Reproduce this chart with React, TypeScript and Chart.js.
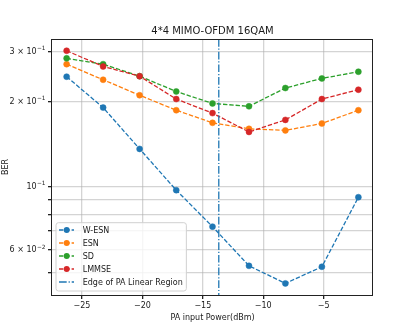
import React, { useEffect, useRef } from 'react';
import { Chart, registerables } from 'chart.js';

Chart.register(...registerables);

// ---- data ----
const TITLE = '4*4 MIMO-OFDM 16QAM';
const X_LABEL = 'PA input Power(dBm)';
const Y_LABEL = 'BER';
const X_POWER = [-26.27, -23.25, -20.23, -17.2, -14.2, -11.18, -8.17, -5.15, -2.13];
const W_ESN = [0.244, 0.19, 0.136, 0.0974, 0.0725, 0.0528, 0.0458, 0.0524, 0.092];
const ESN = [0.27, 0.238, 0.21, 0.186, 0.168, 0.16, 0.158, 0.167, 0.186];
const SD = [0.283, 0.27, 0.245, 0.2165, 0.1965, 0.192, 0.2226, 0.2406, 0.254];
const LMMSE = [0.301, 0.265, 0.245, 0.2036, 0.1817, 0.156, 0.172, 0.2036, 0.2196];
const SERIES_NAMES = ['W-ESN', 'ESN', 'SD', 'LMMSE'];
const EDGE_NAME = 'Edge of PA Linear Region';
const EDGE_X = -13.68;
const X_TICKS = [-25, -20, -15, -10, -5];
const Y_GRID = [0.05, 0.06, 0.07, 0.08, 0.09, 0.1, 0.2, 0.3];
const Y_LABEL_VALUES = [0.3, 0.2, 0.1, 0.06];
const Y_LABEL_MANTISSA = ['3 × 10', '2 × 10', '10', '6 × 10'];
const Y_LABEL_EXPONENT = ['−1', '−1', '−1', '−2'];
const X_MIN = -27.48;
const X_MAX = -0.92;
const Y_MIN = 0.0417;
const Y_MAX = 0.331;

const COLORS = ['#1f77b4', '#ff7f0e', '#2ca02c', '#d62728'];
const FONT = '"DejaVu Sans", sans-serif';
const GRID = 'rgba(176,176,176,0.55)';
const TEXT = '#1a1a1a';
const DASH = [4.4, 1.9];
const DASHDOT = [7.7, 1.9, 1.2, 1.9];

const minus = (v: number) => (v < 0 ? '−' + Math.abs(v) : String(v));

const overlay = {
  id: 'overlay',
  afterDatasetsDraw(chart: any) {
    const { ctx, chartArea, scales } = chart;
    const { left, right, top, bottom } = chartArea;
    ctx.save();
    // vertical edge line
    const xp = scales.x.getPixelForValue(EDGE_X);
    ctx.beginPath();
    ctx.setLineDash(DASHDOT);
    ctx.strokeStyle = COLORS[0];
    ctx.lineWidth = 1.3;
    ctx.moveTo(xp, top);
    ctx.lineTo(xp, bottom);
    ctx.stroke();
    // frame
    ctx.setLineDash([]);
    ctx.strokeStyle = '#222';
    ctx.lineWidth = 1;
    ctx.strokeRect(Math.round(left) - 0.5, Math.round(top) + 0.5, Math.round(right - left), Math.round(bottom - top));
    // legend
    const bx = left + 4;
    const bh = 68.3;
    const by = bottom - 4 - bh;
    ctx.font = '8px ' + FONT;
    const labels = [...SERIES_NAMES, EDGE_NAME];
    const tw = Math.max(...labels.map((l) => ctx.measureText(l).width));
    const bw = 26.7 + tw + 3.6;
    const r = 2.5;
    ctx.beginPath();
    ctx.moveTo(bx + r, by);
    ctx.lineTo(bx + bw - r, by);
    ctx.quadraticCurveTo(bx + bw, by, bx + bw, by + r);
    ctx.lineTo(bx + bw, by + bh - r);
    ctx.quadraticCurveTo(bx + bw, by + bh, bx + bw - r, by + bh);
    ctx.lineTo(bx + r, by + bh);
    ctx.quadraticCurveTo(bx, by + bh, bx, by + bh - r);
    ctx.lineTo(bx, by + r);
    ctx.quadraticCurveTo(bx, by, bx + r, by);
    ctx.closePath();
    ctx.fillStyle = 'rgba(255,255,255,0.8)';
    ctx.fill();
    ctx.strokeStyle = '#d0d0d0';
    ctx.lineWidth = 1;
    ctx.stroke();
    labels.forEach((label, i) => {
      const cy = by + 7.3 + i * 13;
      const color = i < 4 ? COLORS[i] : COLORS[0];
      ctx.beginPath();
      ctx.setLineDash(i < 4 ? DASH : DASHDOT);
      ctx.strokeStyle = color;
      ctx.lineWidth = 1.3;
      ctx.moveTo(bx + 3, cy);
      ctx.lineTo(bx + 18, cy);
      ctx.stroke();
      ctx.setLineDash([]);
      if (i < 4) {
        ctx.beginPath();
        ctx.arc(bx + 10.7, cy, 3, 0, Math.PI * 2);
        ctx.fillStyle = color;
        ctx.fill();
      }
      ctx.fillStyle = TEXT;
      ctx.textAlign = 'left';
      ctx.textBaseline = 'middle';
      ctx.fillText(label, bx + 26.7, cy + 0.5);
    });
    ctx.restore();
  },
  afterDraw(chart: any) {
    const { ctx, chartArea, scales } = chart;
    ctx.save();
    ctx.font = '10px ' + FONT;
    ctx.fillStyle = TEXT;
    ctx.textAlign = 'center';
    ctx.textBaseline = 'middle';
    ctx.fillText(TITLE, (chartArea.left + chartArea.right) / 2, 31);
    // y tick labels with superscript exponents
    const xr = chartArea.left - 6.5;
    Y_LABEL_VALUES.forEach((v, i) => {
      const yp = scales.y.getPixelForValue(v);
      ctx.textAlign = 'right';
      ctx.textBaseline = 'middle';
      ctx.font = '5.8px ' + FONT;
      const ew = ctx.measureText(Y_LABEL_EXPONENT[i]).width;
      ctx.fillText(Y_LABEL_EXPONENT[i], xr, yp - 3);
      ctx.font = '8px ' + FONT;
      ctx.fillText(Y_LABEL_MANTISSA[i], xr - ew - 0.3, yp + 0.3);
    });
    ctx.restore();
  },
};

export default function App() {
  const ref = useRef<HTMLCanvasElement | null>(null);
  useEffect(() => {
    if (!ref.current) return;
    const all = [W_ESN, ESN, SD, LMMSE];
    const chart = new Chart(ref.current, {
      type: 'line',
      data: {
        datasets: all.map((vals, i) => ({
          label: SERIES_NAMES[i],
          data: vals.map((y, k) => ({ x: X_POWER[k], y })),
          borderColor: COLORS[i],
          backgroundColor: COLORS[i],
          borderWidth: 1.3,
          borderDash: DASH,
          pointRadius: 3,
          pointBorderWidth: 0.5,
          pointBackgroundColor: COLORS[i],
          pointBorderColor: COLORS[i],
          tension: 0,
          order: 3 - i,
        })),
      },
      options: {
        responsive: false,
        animation: false,
        devicePixelRatio: 1,
        layout: { padding: { top: 39, right: 42, left: 0, bottom: 0 } },
        plugins: { legend: { display: false }, tooltip: { enabled: false }, title: { display: false } },
        scales: {
          x: {
            type: 'linear',
            min: X_MIN,
            max: X_MAX,
            afterBuildTicks: (s: any) => {
              s.ticks = X_TICKS.map((v) => ({ value: v }));
            },
            afterFit: (s: any) => {
              s.height = 37;
            },
            border: { display: false },
            grid: { color: GRID, lineWidth: 1.3, tickColor: '#222', tickLength: 4, drawTicks: true },
            ticks: {
              autoSkip: false,
              maxRotation: 0,
              padding: 2,
              color: TEXT,
              font: { family: FONT, size: 8 },
              callback: (v: any) => minus(Number(v)),
            },
            title: {
              display: true,
              text: X_LABEL,
              color: TEXT,
              font: { family: FONT, size: 8 },
              padding: { top: 0, bottom: 9.5 },
            },
          },
          y: {
            type: 'logarithmic',
            min: Y_MIN,
            max: Y_MAX,
            afterBuildTicks: (s: any) => {
              s.ticks = Y_GRID.map((v) => ({ value: v }));
            },
            afterFit: (s: any) => {
              s.width = 52;
            },
            border: { display: false },
            grid: { color: GRID, lineWidth: 1.3, tickColor: '#222', tickLength: 4, drawTicks: true },
            ticks: {
              autoSkip: false,
              padding: 3,
              color: TEXT,
              font: { family: FONT, size: 8 },
              callback: () => '',
            },
            title: {
              display: true,
              text: Y_LABEL,
              color: TEXT,
              font: { family: FONT, size: 8 },
              padding: { top: 1, bottom: 0 },
            },
          },
        },
      },
      plugins: [overlay],
    } as any);
    return () => chart.destroy();
  }, []);
  return (
    <div style={{ position: 'fixed', left: 0, top: 0, width: 415, height: 332, background: '#fff' }}>
      <canvas ref={ref} width={415} height={332} />
    </div>
  );
}
